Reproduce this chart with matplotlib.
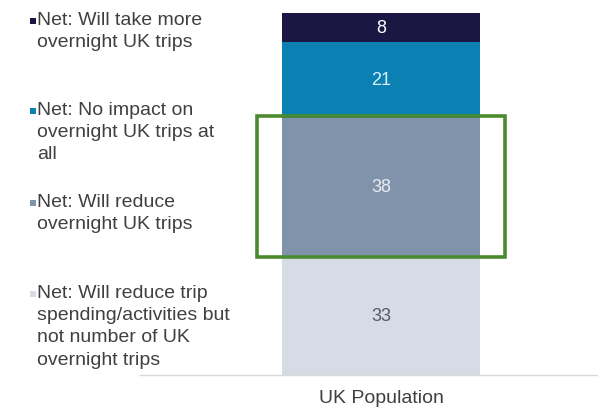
import matplotlib
matplotlib.use("Agg")
import matplotlib.pyplot as plt
from matplotlib.patches import Rectangle
import numpy as np

plt.rcParams['font.family'] = ['Liberation Sans', 'DejaVu Sans']

category = "UK Population"
series = [
    "Net: Will reduce trip\nspending/activities but\nnot number of UK\novernight trips",
    "Net: Will reduce\novernight UK trips",
    "Net: No impact on\novernight UK trips at\nall",
    "Net: Will take more\novernight UK trips",
]
values = [33, 38, 21, 8]
colors = ["#d6dce6", "#8093ab", "#0b80b2", "#1b1742"]
label_colors = ["#555a66", "#e8ecf2", "#d8f0fb", "#ffffff"]
highlight_index = 1

W, H = 598, 410
fig = plt.figure(figsize=(W / 100, H / 100), dpi=100)
ax_left, ax_right, ax_top, ax_bot = 140, 598, 14, 376
ax = fig.add_axes([ax_left / W, (H - ax_bot) / H, (ax_right - ax_left) / W, (ax_bot - ax_top) / H])

bar_w = 0.6
px_per_unit = 198 / bar_w
center_px = 381
ax.set_xlim(-(center_px - ax_left) / px_per_unit, (ax_right - center_px) / px_per_unit)
ax.set_ylim(0, 100)

bottom = 0
for v, c, lc in zip(values, colors, label_colors):
    ax.bar(0, v, width=bar_w, bottom=bottom, color=c, edgecolor='none', zorder=2)
    ax.text(0, bottom + v / 2, str(v), ha='center', va='center', fontsize=13,
            color=lc, zorder=4)
    bottom += v

# highlight box around selected segment
hb = sum(values[:highlight_index])
hv = values[highlight_index]
half = (505 - 257) / 2 / px_per_unit
ax.add_patch(Rectangle((-half, hb - 0.5), 2 * half, hv + 1.0, fill=False,
                       edgecolor="#4b8a2e", linewidth=2.6, zorder=5, clip_on=False))

for s in ['top', 'right', 'left']:
    ax.spines[s].set_visible(False)
ax.spines['bottom'].set_color('#d9d9d9')
ax.spines['bottom'].set_linewidth(1)
ax.set_yticks([])
ax.set_xticks([0])
ax.set_xticklabels([category], fontsize=14, color='#404040')
ax.tick_params(axis='x', length=0, pad=10)

# legend as text entries (top to bottom), first-line centres in px
legend_centres = [22, 112, 204, 295]
order = [3, 2, 1, 0]
for yc, idx in zip(legend_centres, order):
    fig.patches.append(Rectangle((30 / W, 1 - (yc + 3) / H), 6 / W, 6 / H,
                                 transform=fig.transFigure, facecolor=colors[idx],
                                 edgecolor='none'))
    fig.text(37 / W, 1 - (yc - 10) / H, series[idx], ha='left', va='top',
             fontsize=14, color='#404040', linespacing=1.40)

fig.savefig("out.png", dpi=100)
